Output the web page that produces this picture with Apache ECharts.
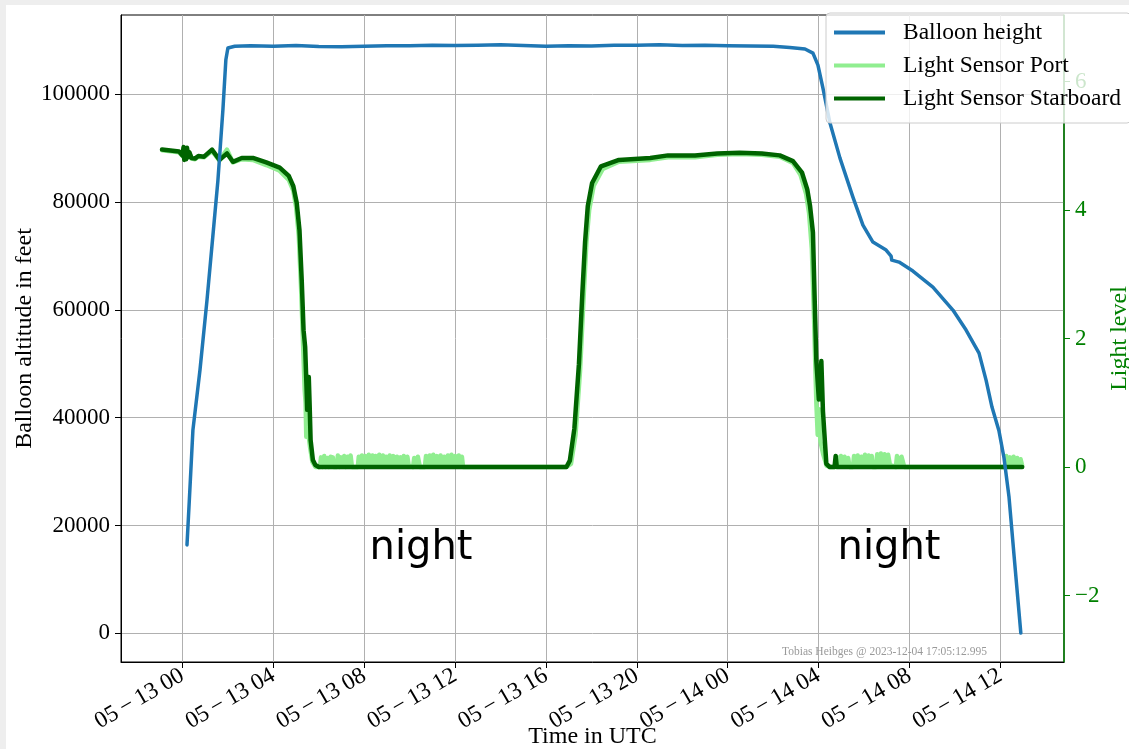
<!DOCTYPE html>
<html>
<head>
<meta charset="utf-8">
<script src="https://cdn.jsdelivr.net/npm/echarts@6/dist/echarts.min.js"></script>
<style>
html,body{margin:0;padding:0;background:#eeeeee;width:1129px;height:749px;overflow:hidden;}
#c{position:absolute;left:6px;top:5px;width:1123px;height:744px;background:#ffffff;}
</style>
</head>
<body>
<div id="c"></div>
<script>
// time in hours relative to 2023-05-13 00:00 UTC
const xTicks = [0, 4, 8, 12, 16, 20, 24, 28, 32, 36];
const leftTicks = [0, 20000, 40000, 60000, 80000, 100000];
const rightTicks = [-2, 0, 2, 4, 6];

const balloonHeight = [
  [0.20,16400],[0.30,24500],[0.46,37700],[0.77,48800],[1.08,61800],[1.34,73800],[1.56,84000],
  [1.78,97100],[1.91,106400],[2.00,108600],[2.3,108900],[3,109000],[4,108900],[5,109050],
  [6,108850],[7,108800],[8,108900],[9,109000],[10,109000],[11,109100],[12,109050],[13,109100],
  [14,109200],[15,109050],[16,108900],[17,109000],[18,108950],[19,109100],[20,109100],[21,109200],
  [22,109050],[23,109100],[24,109000],[25,108950],[26,108900],[26.73,108700],[27.4,108400],
  [27.75,107640],[27.97,105410],[28.19,101150],[28.50,94660],[28.94,88160],[29.51,80930],
  [29.95,75730],[30.39,72580],[30.97,71100],[31.19,69980],[31.22,69240],[31.54,68870],
  [32.15,67200],[33.03,64230],[33.91,59970],[34.49,56260],[35.06,51990],[35.37,46980],
  [35.63,41970],[35.94,37520],[36.16,32520],[36.38,25280],[36.60,14520],[36.90,50]
];

const lightStarboard = [
  [-0.90,4.94],[-0.15,4.91],[0.00,4.85],[0.05,4.98],[0.08,4.78],[0.12,4.96],[0.16,4.79],[0.20,4.97],
  [0.25,4.82],[0.30,4.90],[0.40,4.81],[0.55,4.80],[0.70,4.84],[0.95,4.83],[1.30,4.94],[1.63,4.78],
  [1.96,4.88],[2.22,4.75],[2.61,4.81],[3.10,4.81],[3.69,4.74],[4.28,4.66],[4.68,4.53],[4.88,4.37],
  [5.03,4.11],[5.15,3.69],[5.25,2.90],[5.33,2.13],[5.40,1.87],[5.46,1.25],[5.49,0.89],[5.56,1.40],
  [5.60,0.94],[5.64,0.42],[5.74,0.11],[5.85,0.03],[6.00,0.00],[10.0,0.00],[16.9,0.00],[17.05,0.10],
  [17.25,0.60],[17.45,1.60],[17.60,2.70],[17.72,3.50],[17.84,4.06],[18.03,4.42],[18.42,4.68],
  [19.21,4.78],[20.59,4.81],[21.37,4.85],[22.56,4.85],[23.54,4.88],[24.52,4.89],[25.50,4.88],
  [26.29,4.85],[26.87,4.76],[27.27,4.58],[27.50,4.32],[27.62,4.07],[27.75,3.65],[27.83,2.56],
  [27.90,1.65],[28.01,1.05],[28.12,1.65],[28.19,0.87],[28.34,0.05],[28.49,0.00],[28.70,0.00],
  [28.75,0.17],[28.80,0.00],[32.0,0.00],[36.96,0.00]
];

const lightPort = [
  [-0.90,4.93],[-0.15,4.90],[0.00,4.84],[0.05,4.96],[0.08,4.79],[0.12,4.94],[0.16,4.80],[0.20,4.95],
  [0.25,4.83],[0.30,4.89],[0.40,4.80],[0.55,4.79],[0.70,4.83],[0.95,4.82],[1.30,4.92],[1.63,4.77],
  [1.96,4.94],[2.22,4.74],[2.61,4.79],[3.10,4.78],[3.69,4.70],[4.28,4.61],[4.68,4.47],[4.88,4.30],
  [5.00,4.05],[5.12,3.60],[5.22,2.80],[5.30,2.00],[5.38,1.20],[5.42,1.00],[5.45,0.47],[5.50,0.89],
  [5.55,0.50],[5.62,0.30],[5.72,0.08],[5.85,0.00],
  [6.05,0.00],[6.10,0.15],[6.16,0.00],[6.24,0.17],[6.30,0.00],[6.38,0.14],[6.44,0.00],[6.52,0.16],
  [6.58,0.02],[6.62,0.15],[6.66,0.00],
  [6.80,0.00],[6.84,0.18],[6.90,0.00],[6.98,0.15],[7.04,0.01],[7.12,0.17],[7.18,0.00],[7.26,0.16],
  [7.32,0.02],[7.40,0.18],[7.46,0.00],
  [7.72,0.00],[7.76,0.16],[7.84,0.04],[7.90,0.18],[7.98,0.05],[8.06,0.17],[8.14,0.03],[8.20,0.19],
  [8.28,0.04],[8.36,0.18],[8.44,0.02],[8.50,0.17],[8.58,0.05],[8.66,0.19],[8.74,0.03],[8.82,0.18],
  [8.90,0.04],[8.96,0.16],[9.04,0.02],[9.12,0.18],[9.20,0.05],[9.28,0.17],[9.36,0.03],[9.44,0.16],
  [9.52,0.01],[9.60,0.15],[9.68,0.02],[9.74,0.17],[9.82,0.03],[9.90,0.16],[9.96,0.02],[10.01,0.00],
  [10.15,0.00],[10.20,0.14],[10.28,0.02],[10.36,0.16],[10.45,0.00],
  [10.67,0.00],[10.72,0.17],[10.80,0.03],[10.88,0.18],[10.96,0.05],[11.04,0.19],[11.12,0.04],
  [11.20,0.17],[11.28,0.03],[11.36,0.18],[11.44,0.02],[11.52,0.16],[11.60,0.04],[11.68,0.18],
  [11.76,0.05],[11.84,0.19],[11.92,0.03],[12.00,0.17],[12.08,0.04],[12.16,0.18],[12.24,0.02],
  [12.30,0.16],[12.35,0.00],
  [16.90,0.00],[17.10,0.05],[17.30,0.50],[17.50,1.50],[17.65,2.60],[17.78,3.50],[17.90,4.00],
  [18.10,4.38],[18.50,4.64],[19.21,4.75],[20.59,4.78],[21.37,4.82],[22.56,4.82],[23.54,4.86],
  [24.52,4.87],[25.50,4.86],[26.29,4.83],[26.87,4.73],[27.20,4.55],[27.45,4.25],[27.58,3.95],
  [27.70,3.40],[27.80,2.30],[27.86,1.50],[27.90,1.00],[27.96,0.50],[28.02,0.90],[28.08,0.40],
  [28.20,0.20],[28.35,0.02],[28.50,0.00],
  [28.78,0.00],[28.82,0.15],[28.90,0.02],[28.98,0.17],[29.06,0.03],[29.14,0.16],[29.22,0.01],
  [29.30,0.14],[29.36,0.00],
  [29.51,0.00],[29.56,0.17],[29.64,0.03],[29.72,0.18],[29.80,0.04],[29.88,0.16],[29.96,0.02],
  [30.04,0.19],[30.12,0.04],[30.20,0.18],[30.28,0.03],[30.34,0.17],[30.38,0.00],
  [30.53,0.00],[30.58,0.20],[30.66,0.05],[30.74,0.21],[30.82,0.04],[30.90,0.20],[30.98,0.05],
  [31.06,0.19],[31.14,0.03],[31.18,0.00],
  [31.40,0.00],[31.45,0.17],[31.55,0.02],[31.65,0.16],[31.77,0.00],
  [36.20,0.00],[36.26,0.17],[36.34,0.02],[36.42,0.15],[36.50,0.03],[36.58,0.16],[36.66,0.02],
  [36.74,0.14],[36.82,0.03],[36.89,0.12],[36.96,0.02]
];

const nightLabels = [[10.5, 15700, 'night'], [31.1, 15700, 'night']];
const watermark = 'Tobias Heibges @ 2023-12-04 17:05:12.995';

const SERIF = '"Liberation Serif", "Times New Roman", serif';
const GREEN = '#008000';
const MINUS = '\u2212';
const THIN = '\u2009';

function fmtTime(v) {
  const day = 13 + Math.floor(v / 24);
  const hh = Math.round(((v % 24) + 24) % 24);
  return '05' + THIN + MINUS + THIN + day + ' ' + (hh < 10 ? '0' + hh : '' + hh);
}

const chart = echarts.init(document.getElementById('c'), null, {renderer: 'canvas'});
chart.setOption({
  animation: false,
  backgroundColor: '#ffffff',
  grid: {left: 115, top: 10, right: 65, bottom: 87, containLabel: false, outerBoundsMode: 'none',
         show: true, borderColor: '#000000', borderWidth: 1, backgroundColor: 'transparent'},
  legend: {
    data: ['Balloon height', 'Light Sensor Port', 'Light Sensor Starboard'],
    orient: 'vertical', left: 820, top: 8,
    padding: [7, 10, 12, 8],
    itemWidth: 51, itemHeight: 4, itemGap: 8,
    icon: 'rect',
    backgroundColor: 'rgba(255,255,255,0.8)', borderColor: '#cccccc', borderWidth: 1, borderRadius: 4,
    textStyle: {fontFamily: SERIF, fontSize: 23.5, color: '#000', lineHeight: 25, padding: [0, 0, 0, 13]},
    z: 10
  },
  xAxis: {
    type: 'value', min: -2.705, max: 38.80,
    name: 'Time in UTC', nameLocation: 'middle', nameGap: 63, nameMoveOverlap: false,
    nameTextStyle: {fontFamily: SERIF, fontSize: 24, color: '#000'},
    axisLine: {show: true, onZero: false, lineStyle: {color: '#000', width: 1}},
    axisTick: {show: true, length: 6, lineStyle: {color: '#000'}, customValues: xTicks},
    axisLabel: {customValues: xTicks, rotate: 30, margin: 12, fontFamily: SERIF, fontSize: 23.5, color: '#000', formatter: fmtTime},
    splitLine: {show: true, lineStyle: {color: '#b0b0b0', width: 1}}
  },
  yAxis: [{
    type: 'value', min: -5325, max: 114712, position: 'left',
    name: 'Balloon altitude in feet', nameLocation: 'middle', nameGap: 84, nameMoveOverlap: false,
    nameTextStyle: {fontFamily: SERIF, fontSize: 24, color: '#000'},
    axisLine: {show: true, onZero: false, lineStyle: {color: '#000', width: 1}},
    axisTick: {show: true, length: 6, lineStyle: {color: '#000'}, customValues: leftTicks},
    axisLabel: {customValues: leftTicks, margin: 11, fontFamily: SERIF, fontSize: 23, color: '#000', formatter: v => String(v)},
    splitLine: {show: true, lineStyle: {color: '#b0b0b0', width: 1}}
  }, {
    type: 'value', min: -3.035, max: 7.035, position: 'right',
    name: 'Light level', nameLocation: 'middle', nameGap: 44, nameMoveOverlap: false,
    nameTextStyle: {fontFamily: SERIF, fontSize: 24, color: GREEN},
    axisLine: {show: true, onZero: false, lineStyle: {color: GREEN, width: 1.5}},
    axisTick: {show: true, length: 6, lineStyle: {color: GREEN}, customValues: rightTicks},
    axisLabel: {customValues: rightTicks, margin: 11, fontFamily: SERIF, fontSize: 23, color: GREEN, formatter: v => (v < 0 ? MINUS + Math.abs(v) : String(v))},
    splitLine: {show: false}
  }],
  series: [{
    name: 'Light Sensor Port', type: 'line', yAxisIndex: 1, data: lightPort,
    showSymbol: false, symbol: 'none', z: 2,
    itemStyle: {color: '#90ee90'},
    lineStyle: {color: '#90ee90', width: 4.5, join: 'round', cap: 'round'}
  }, {
    name: 'Light Sensor Starboard', type: 'line', yAxisIndex: 1, data: lightStarboard,
    showSymbol: false, symbol: 'none', z: 3,
    itemStyle: {color: '#006400'},
    lineStyle: {color: '#006400', width: 4.5, join: 'round', cap: 'round'}
  }, {
    name: 'Balloon height', type: 'line', yAxisIndex: 0, data: balloonHeight,
    showSymbol: false, symbol: 'none', z: 4,
    itemStyle: {color: '#1f77b4'},
    lineStyle: {color: '#1f77b4', width: 3.5, join: 'round', cap: 'round'}
  }, {
    name: 'night', type: 'scatter', yAxisIndex: 0, symbolSize: 0, z: 5,
    itemStyle: {opacity: 1},
    data: nightLabels.map(d => ({value: [d[0], d[1]], name: d[2]})),
    label: {show: true, position: 'inside', formatter: p => p.name, fontFamily: '"DejaVu Sans", sans-serif', fontSize: 40, color: '#000000', opacity: 1},
    silent: true
  }],
  graphic: [{
    type: 'text', left: 776, top: 641, z: 6,
    style: {text: watermark, fontFamily: SERIF, fontSize: 11.5, fill: '#999999'}
  }]
});
</script>
</body>
</html>
